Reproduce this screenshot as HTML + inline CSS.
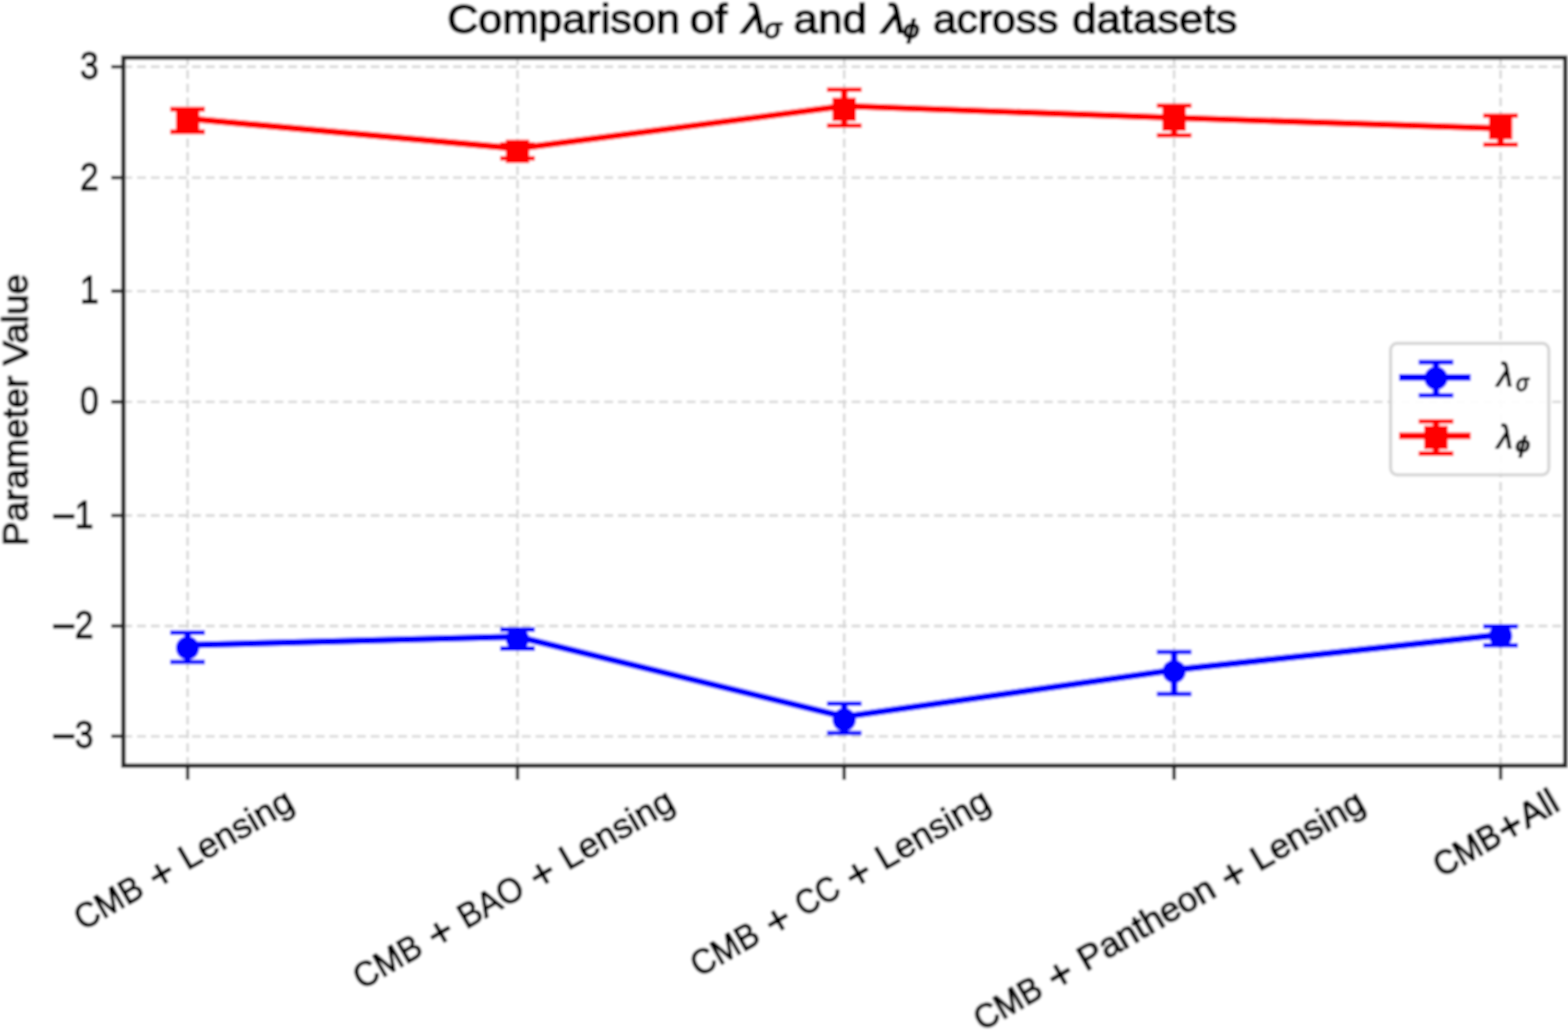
<!DOCTYPE html>
<html lang="en">
<head>
<meta charset="utf-8">
<title>Comparison of lambda sigma and lambda phi across datasets</title>
<style>
html,body{margin:0;padding:0;background:#ffffff;}
body{width:1568px;height:1030px;overflow:hidden;}
svg{display:block;}
svg text{font-family:"Liberation Sans",sans-serif;white-space:pre;stroke:#000;stroke-width:1.25px;stroke-linejoin:round;}
svg .ttl text{stroke-width:1.6px;}
</style>
</head>
<body>
<svg width="1568" height="1030" viewBox="0 0 1568 1030">
<defs><filter id="soft" x="0" y="0" width="1568" height="1030" filterUnits="userSpaceOnUse"><feGaussianBlur stdDeviation="1.0"/></filter></defs>
<g filter="url(#soft)">
<rect x="0" y="0" width="1568" height="1030" fill="#fff"/>
<g stroke="#d5d5d5" stroke-width="2.35" stroke-dasharray="8.8 4.94" fill="none">
<path d="M123.4 66.7H1565.2"/>
<path d="M123.4 177.6H1565.2"/>
<path d="M123.4 291.1H1565.2"/>
<path d="M123.4 401.8H1565.2"/>
<path d="M123.4 515.5H1565.2"/>
<path d="M123.4 626.0H1565.2"/>
<path d="M123.4 736.3H1565.2"/>
<path d="M187.6 765.7V57.6"/>
<path d="M517.5 765.7V57.6"/>
<path d="M844.2 765.7V57.6"/>
<path d="M1174.1 765.7V57.6"/>
<path d="M1500.6 765.7V57.6"/>
</g>
<g stroke="#0000ff" fill="#0000ff">
<polyline points="187.6,645.1 517.5,636.7 844.2,716.7 1174.1,669.9 1500.6,634.7" fill="none" stroke-width="6.60" stroke-linejoin="round" stroke-linecap="square"/>
<path d="M187.6 632.8V662.0" stroke-width="6.60"/>
<path d="M170.3 632.8h34.6M170.3 662.0h34.6" stroke-width="4.60"/>
<circle cx="187.6" cy="648.0" r="11.70" stroke="none"/>
<path d="M517.5 629.6V648.6" stroke-width="6.60"/>
<path d="M500.2 629.6h34.6M500.2 648.6h34.6" stroke-width="4.60"/>
<circle cx="517.5" cy="639.1" r="11.70" stroke="none"/>
<path d="M844.2 703.8V733.0" stroke-width="6.60"/>
<path d="M826.9 703.8h34.6M826.9 733.0h34.6" stroke-width="4.60"/>
<circle cx="844.2" cy="719.8" r="11.70" stroke="none"/>
<path d="M1174.1 652.0V694.0" stroke-width="6.60"/>
<path d="M1156.8 652.0h34.6M1156.8 694.0h34.6" stroke-width="4.60"/>
<circle cx="1174.1" cy="671.6" r="11.70" stroke="none"/>
<path d="M1500.6 626.2V645.2" stroke-width="6.60"/>
<path d="M1483.3 626.2h34.6M1483.3 645.2h34.6" stroke-width="4.60"/>
<circle cx="1500.6" cy="635.7" r="11.70" stroke="none"/>
</g>
<g stroke="#ff0000" fill="#ff0000">
<polyline points="187.6,118.6 517.5,148.6 844.2,106.0 1174.1,117.8 1500.6,128.4" fill="none" stroke-width="6.60" stroke-linejoin="round" stroke-linecap="square"/>
<path d="M187.6 109.1V131.9" stroke-width="6.60"/>
<path d="M170.3 109.1h34.6M170.3 131.9h34.6" stroke-width="4.60"/>
<rect x="175.90" y="108.80" width="23.40" height="23.40" stroke="none"/>
<path d="M517.5 144.6V158.2" stroke-width="6.60"/>
<path d="M500.2 144.6h34.6M500.2 158.2h34.6" stroke-width="4.60"/>
<rect x="505.80" y="139.70" width="23.40" height="23.40" stroke="none"/>
<path d="M844.2 89.7V125.7" stroke-width="6.60"/>
<path d="M826.9 89.7h34.6M826.9 125.7h34.6" stroke-width="4.60"/>
<rect x="832.50" y="97.70" width="23.40" height="23.40" stroke="none"/>
<path d="M1174.1 105.7V135.3" stroke-width="6.60"/>
<path d="M1156.8 105.7h34.6M1156.8 135.3h34.6" stroke-width="4.60"/>
<rect x="1162.40" y="107.50" width="23.40" height="23.40" stroke="none"/>
<path d="M1500.6 115.8V144.8" stroke-width="6.60"/>
<path d="M1483.3 115.8h34.6M1483.3 144.8h34.6" stroke-width="4.60"/>
<rect x="1488.90" y="116.00" width="23.40" height="23.40" stroke="none"/>
</g>
<rect x="123.4" y="57.6" width="1441.8" height="708.1" fill="none" stroke="#242424" stroke-width="4.30"/>
<g stroke="#242424" stroke-width="3.40">
<path d="M187.6 765.7v14.0"/>
<path d="M517.5 765.7v14.0"/>
<path d="M844.2 765.7v14.0"/>
<path d="M1174.1 765.7v14.0"/>
<path d="M1500.6 765.7v14.0"/>
<path d="M123.4 66.7h-12.0"/>
<path d="M123.4 177.6h-12.0"/>
<path d="M123.4 291.1h-12.0"/>
<path d="M123.4 401.8h-12.0"/>
<path d="M123.4 515.5h-12.0"/>
<path d="M123.4 626.0h-12.0"/>
<path d="M123.4 736.3h-12.0"/>
</g>
<g font-size="38.70" fill="#000">
<text x="79.9" y="78.7" textLength="18.7" lengthAdjust="spacingAndGlyphs">3</text>
<text x="79.9" y="189.6" textLength="18.7" lengthAdjust="spacingAndGlyphs">2</text>
<text x="79.9" y="303.1" textLength="18.7" lengthAdjust="spacingAndGlyphs">1</text>
<text x="79.9" y="413.8" textLength="18.7" lengthAdjust="spacingAndGlyphs">0</text>
<text x="74.7" y="527.5" textLength="18.7" lengthAdjust="spacingAndGlyphs">1</text>
<text x="63.6" y="529.6" text-anchor="middle" font-size="41.7">−</text>
<text x="74.7" y="638.0" textLength="18.7" lengthAdjust="spacingAndGlyphs">2</text>
<text x="63.6" y="640.1" text-anchor="middle" font-size="41.7">−</text>
<text x="74.7" y="748.3" textLength="18.7" lengthAdjust="spacingAndGlyphs">3</text>
<text x="63.6" y="750.4" text-anchor="middle" font-size="41.7">−</text>
</g>
<g font-size="35.00" fill="#000">
<g transform="translate(82.8 931.1) rotate(-30) scale(1.0 1)"><text x="0.0" y="0.0" textLength="72.8" lengthAdjust="spacingAndGlyphs">CMB</text><text x="96.7" y="3.7" text-anchor="middle" font-size="41.7">+</text><text x="120.6" y="0.0" textLength="125.5" lengthAdjust="spacingAndGlyphs">Lensing</text></g>
<g transform="translate(361.8 989.9) rotate(-30) scale(1.0 1)"><text x="0.0" y="0.0" textLength="72.8" lengthAdjust="spacingAndGlyphs">CMB</text><text x="96.7" y="3.7" text-anchor="middle" font-size="41.7">+</text><text x="120.6" y="0.0" textLength="69.9" lengthAdjust="spacingAndGlyphs">BAO</text><text x="214.4" y="3.7" text-anchor="middle" font-size="41.7">+</text><text x="238.2" y="0.0" textLength="125.5" lengthAdjust="spacingAndGlyphs">Lensing</text></g>
<g transform="translate(699.1 977.6) rotate(-30) scale(1.0 1)"><text x="0.0" y="0.0" textLength="72.8" lengthAdjust="spacingAndGlyphs">CMB</text><text x="96.7" y="3.7" text-anchor="middle" font-size="41.7">+</text><text x="120.6" y="0.0" textLength="45.3" lengthAdjust="spacingAndGlyphs">CC</text><text x="189.7" y="3.7" text-anchor="middle" font-size="41.7">+</text><text x="213.6" y="0.0" textLength="125.5" lengthAdjust="spacingAndGlyphs">Lensing</text></g>
<g transform="translate(982.2 1031.7) rotate(-30) scale(0.994 1)"><text x="0.0" y="0.0" textLength="72.8" lengthAdjust="spacingAndGlyphs">CMB</text><text x="96.7" y="3.7" text-anchor="middle" font-size="41.7">+</text><text x="120.6" y="0.0" textLength="153.5" lengthAdjust="spacingAndGlyphs">Pantheon</text><text x="297.9" y="3.7" text-anchor="middle" font-size="41.7">+</text><text x="321.8" y="0.0" textLength="125.5" lengthAdjust="spacingAndGlyphs">Lensing</text></g>
<g transform="translate(1441.7 878.1) rotate(-30) scale(0.985 1)"><text x="0.0" y="0.0" textLength="72.8" lengthAdjust="spacingAndGlyphs">CMB</text><text x="86.4" y="3.7" text-anchor="middle" font-size="41.7">+</text><text x="100.0" y="0.0" textLength="40.2" lengthAdjust="spacingAndGlyphs">All</text></g>
</g>
<g font-size="35.00" fill="#000" transform="translate(27.4 545.9) rotate(-90)">
<text x="0.0" y="0.0" textLength="170.1" lengthAdjust="spacingAndGlyphs">Parameter</text>
<text x="180.4" y="0.0" textLength="91.5" lengthAdjust="spacingAndGlyphs">Value</text>
</g>
<g class="ttl" font-size="41.57" fill="#000">
<text x="447.2" y="32.6" textLength="232.8" lengthAdjust="spacingAndGlyphs">Comparison</text>
<text x="689.7" y="32.6" textLength="37.5" lengthAdjust="spacingAndGlyphs">of</text>
<text x="793.6" y="32.6" textLength="73.2" lengthAdjust="spacingAndGlyphs">and</text>
<text x="932.9" y="32.6" textLength="125.5" lengthAdjust="spacingAndGlyphs">across</text>
<text x="1072.3" y="32.6" textLength="164.9" lengthAdjust="spacingAndGlyphs">datasets</text>
<text x="742.5" y="32.6" font-style="italic" font-size="40.76" textLength="23.0" lengthAdjust="spacingAndGlyphs">λ</text><text x="764.2" y="38.2" font-style="italic" font-size="28.53" textLength="17.3" lengthAdjust="spacingAndGlyphs">σ</text>
<text x="882.2" y="32.6" font-style="italic" font-size="40.76" textLength="23.0" lengthAdjust="spacingAndGlyphs">λ</text><text x="903.0" y="37.6" font-style="italic" font-size="25.68" textLength="16.5" lengthAdjust="spacingAndGlyphs">ϕ</text>
</g>
<rect x="1390.6" y="343.4" width="158.2" height="131.4" rx="6.5" ry="6.5" fill="#fff" fill-opacity="0.93" stroke="#cccccc" stroke-opacity="0.8" stroke-width="3.24"/>
<g stroke="#0000ff" fill="#0000ff">
<path d="M1402.4 377.4H1467.2" stroke-width="6.8" stroke-linecap="square"/>
<path d="M1436.0 362.1V395.2" stroke-width="6.60"/>
<path d="M1418.7 362.1h34.6M1418.7 395.2h34.6" stroke-width="4.60"/>
<circle cx="1436.0" cy="378.3" r="11.70" stroke="none"/>
</g>
<g stroke="#ff0000" fill="#ff0000">
<path d="M1402.4 435.8H1467.2" stroke-width="6.8" stroke-linecap="square"/>
<path d="M1436.0 421.3V453.6" stroke-width="6.60"/>
<path d="M1418.7 421.3h34.6M1418.7 453.6h34.6" stroke-width="4.60"/>
<rect x="1424.27" y="425.80" width="23.40" height="23.40" stroke="none"/>
</g>
<g fill="#000">
<text x="1496.9" y="386.4" font-style="italic" font-size="33.96" textLength="15.7" lengthAdjust="spacingAndGlyphs">λ</text><text x="1516.0" y="390.8" font-style="italic" font-size="23.77" textLength="12.9" lengthAdjust="spacingAndGlyphs">σ</text>
<text x="1496.9" y="448.2" font-style="italic" font-size="33.96" textLength="15.7" lengthAdjust="spacingAndGlyphs">λ</text><text x="1515.6" y="452.2" font-style="italic" font-size="21.40" textLength="14.5" lengthAdjust="spacingAndGlyphs">ϕ</text>
</g>
</g>
</svg>
</body>
</html>
